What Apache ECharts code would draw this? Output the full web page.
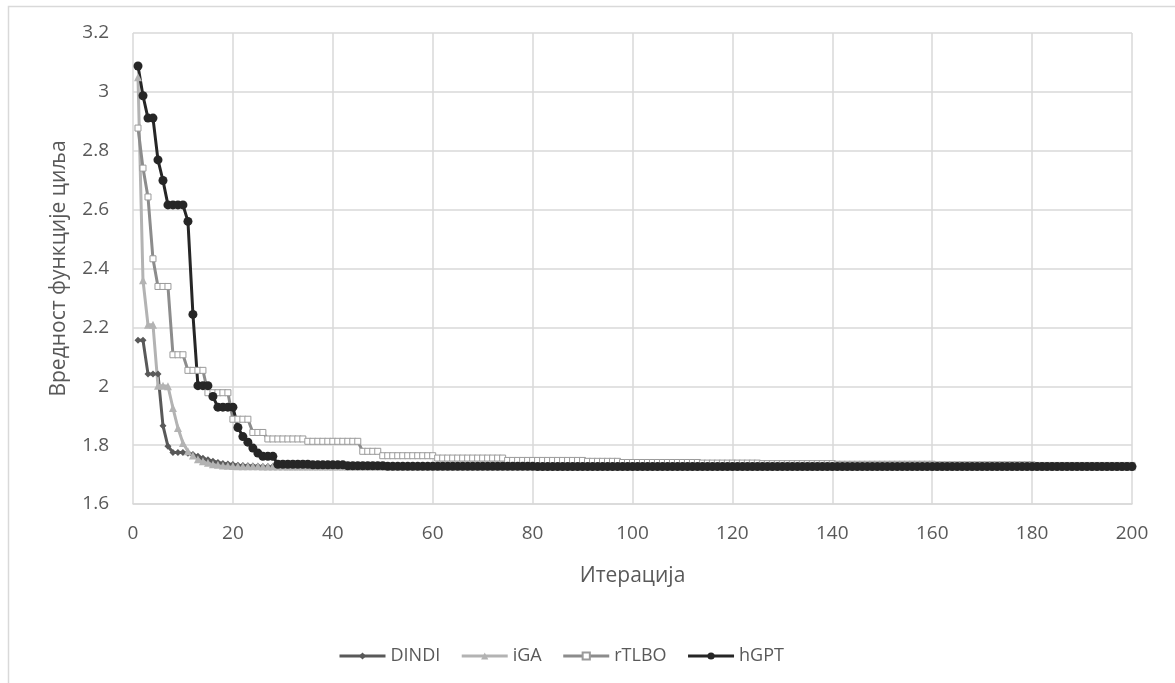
<!DOCTYPE html>
<html>
<head>
<meta charset="utf-8">
<script src="https://cdn.jsdelivr.net/npm/echarts@6/dist/echarts.min.js"></script>
<style>
html,body{margin:0;padding:0;background:#fff;}
#chart{width:1175px;height:683px;}
</style>
</head>
<body>
<div id="chart"></div>
<script>
// Iteration numbers 1..200 (x axis)
const seriesNames = ['DINDI', 'iGA', 'rTLBO', 'hGPT'];
const xTicks = [0, 20, 40, 60, 80, 100, 120, 140, 160, 180, 200];
const yTicks = [1.6, 1.8, 2, 2.2, 2.4, 2.6, 2.8, 3, 3.2];
const xTitle = 'Итерација';
const yTitle = 'Вредност функције циља';

const dindi = [
  2.156,2.156,2.042,2.042,2.042,1.866,1.796,1.775,1.775,1.775,
  1.772,1.768,1.762,1.755,1.750,1.745,1.741,1.738,1.736,1.734,
  1.732,1.731,1.730,1.729,1.728,1.727,1.727,1.727,1.727,1.727,
  1.726,1.726,1.726,1.726,1.726,1.726,1.726,1.726,1.726,1.726,
  1.726,1.726,1.726,1.726,1.726,1.726,1.726,1.726,1.726,1.726,
  1.726,1.726,1.726,1.726,1.726,1.726,1.726,1.726,1.726,1.726,
  1.726,1.726,1.726,1.726,1.726,1.726,1.726,1.726,1.726,1.726,
  1.726,1.726,1.726,1.726,1.726,1.726,1.726,1.726,1.726,1.726,
  1.726,1.726,1.726,1.726,1.726,1.726,1.726,1.726,1.726,1.726,
  1.726,1.726,1.726,1.726,1.726,1.726,1.726,1.726,1.726,1.726,
  1.726,1.726,1.726,1.726,1.726,1.726,1.726,1.726,1.726,1.726,
  1.726,1.726,1.726,1.726,1.726,1.726,1.726,1.726,1.726,1.726,
  1.726,1.726,1.726,1.726,1.726,1.726,1.726,1.726,1.726,1.726,
  1.726,1.726,1.726,1.726,1.726,1.726,1.726,1.726,1.726,1.726,
  1.726,1.726,1.726,1.726,1.726,1.726,1.726,1.726,1.726,1.726,
  1.726,1.726,1.726,1.726,1.726,1.726,1.726,1.726,1.726,1.726,
  1.726,1.726,1.726,1.726,1.726,1.726,1.726,1.726,1.726,1.726,
  1.726,1.726,1.726,1.726,1.726,1.726,1.726,1.726,1.726,1.726,
  1.726,1.726,1.726,1.726,1.726,1.726,1.726,1.726,1.726,1.726,
  1.726,1.726,1.726,1.726,1.726,1.726,1.726,1.726,1.726,1.726
];

const iga = [
  3.050,2.360,2.209,2.209,2.002,2.002,2.000,1.926,1.858,1.807,
  1.779,1.765,1.752,1.745,1.740,1.735,1.733,1.731,1.730,1.729,
  1.728,1.728,1.728,1.728,1.728,1.727,1.727,1.727,1.727,1.727,
  1.727,1.727,1.727,1.727,1.727,1.727,1.727,1.727,1.727,1.727,
  1.727,1.727,1.727,1.727,1.727,1.727,1.727,1.727,1.727,1.727,
  1.727,1.727,1.727,1.727,1.727,1.727,1.727,1.727,1.727,1.727,
  1.727,1.727,1.727,1.727,1.727,1.727,1.727,1.727,1.727,1.727,
  1.727,1.727,1.727,1.727,1.727,1.727,1.727,1.727,1.727,1.727,
  1.727,1.727,1.727,1.727,1.727,1.727,1.727,1.727,1.727,1.727,
  1.727,1.727,1.727,1.727,1.727,1.727,1.727,1.727,1.727,1.727,
  1.727,1.727,1.727,1.727,1.727,1.727,1.727,1.727,1.727,1.727,
  1.727,1.727,1.727,1.727,1.727,1.727,1.727,1.727,1.727,1.727,
  1.727,1.727,1.727,1.727,1.727,1.727,1.727,1.727,1.727,1.727,
  1.727,1.727,1.727,1.727,1.727,1.727,1.727,1.727,1.727,1.727,
  1.727,1.727,1.727,1.727,1.727,1.727,1.727,1.727,1.727,1.727,
  1.727,1.727,1.727,1.727,1.727,1.727,1.727,1.727,1.727,1.727,
  1.727,1.727,1.727,1.727,1.727,1.727,1.727,1.727,1.727,1.727,
  1.727,1.727,1.727,1.727,1.727,1.727,1.727,1.727,1.727,1.727,
  1.727,1.727,1.727,1.727,1.727,1.727,1.727,1.727,1.727,1.727,
  1.727,1.727,1.727,1.727,1.727,1.727,1.727,1.727,1.727,1.727
];

const rtlbo = [
  2.877,2.741,2.643,2.433,2.339,2.339,2.339,2.107,2.107,2.107,
  2.054,2.054,2.054,2.054,1.978,1.978,1.978,1.978,1.978,1.888,
  1.888,1.888,1.888,1.843,1.843,1.843,1.821,1.821,1.821,1.821,
  1.821,1.821,1.821,1.821,1.813,1.813,1.813,1.813,1.813,1.813,
  1.813,1.813,1.813,1.813,1.813,1.779,1.779,1.779,1.779,1.764,
  1.764,1.764,1.764,1.764,1.764,1.764,1.764,1.764,1.764,1.764,
  1.756,1.756,1.756,1.756,1.756,1.756,1.756,1.756,1.756,1.756,
  1.756,1.756,1.756,1.756,1.748,1.748,1.748,1.748,1.748,1.748,
  1.748,1.748,1.748,1.748,1.748,1.748,1.748,1.748,1.748,1.748,
  1.745,1.745,1.745,1.745,1.745,1.745,1.745,1.741,1.741,1.741,
  1.741,1.741,1.741,1.741,1.741,1.741,1.741,1.741,1.741,1.741,
  1.741,1.741,1.741,1.739,1.739,1.739,1.739,1.739,1.739,1.739,
  1.739,1.739,1.739,1.739,1.739,1.737,1.737,1.737,1.737,1.737,
  1.737,1.737,1.737,1.737,1.737,1.737,1.737,1.737,1.737,1.737,
  1.735,1.735,1.735,1.735,1.735,1.735,1.735,1.735,1.735,1.735,
  1.735,1.735,1.735,1.735,1.735,1.735,1.735,1.735,1.735,1.735,
  1.733,1.733,1.733,1.733,1.733,1.733,1.733,1.733,1.733,1.733,
  1.733,1.733,1.733,1.733,1.733,1.733,1.733,1.733,1.733,1.733,
  1.731,1.731,1.731,1.731,1.731,1.731,1.731,1.731,1.731,1.731,
  1.731,1.731,1.731,1.731,1.731,1.731,1.731,1.731,1.731,1.731
];

const hgpt = [
  3.088,2.987,2.911,2.911,2.769,2.699,2.616,2.616,2.616,2.616,
  2.560,2.244,2.002,2.002,2.002,1.965,1.929,1.929,1.929,1.929,
  1.860,1.829,1.810,1.790,1.773,1.762,1.762,1.762,1.735,1.735,
  1.735,1.735,1.735,1.735,1.735,1.733,1.733,1.733,1.733,1.733,
  1.733,1.733,1.730,1.730,1.730,1.730,1.730,1.730,1.730,1.730,
  1.728,1.728,1.728,1.728,1.728,1.728,1.728,1.728,1.728,1.728,
  1.728,1.728,1.728,1.728,1.728,1.728,1.728,1.728,1.728,1.728,
  1.728,1.728,1.728,1.728,1.728,1.728,1.728,1.728,1.728,1.728,
  1.727,1.727,1.727,1.727,1.727,1.727,1.727,1.727,1.727,1.727,
  1.727,1.727,1.727,1.727,1.727,1.727,1.727,1.727,1.727,1.727,
  1.727,1.727,1.727,1.727,1.727,1.727,1.727,1.727,1.727,1.727,
  1.727,1.727,1.727,1.727,1.727,1.727,1.727,1.727,1.727,1.727,
  1.727,1.727,1.727,1.727,1.727,1.727,1.727,1.727,1.727,1.727,
  1.727,1.727,1.727,1.727,1.727,1.727,1.727,1.727,1.727,1.727,
  1.727,1.727,1.727,1.727,1.727,1.727,1.727,1.727,1.727,1.727,
  1.727,1.727,1.727,1.727,1.727,1.727,1.727,1.727,1.727,1.727,
  1.727,1.727,1.727,1.727,1.727,1.727,1.727,1.727,1.727,1.727,
  1.727,1.727,1.727,1.727,1.727,1.727,1.727,1.727,1.727,1.727,
  1.727,1.727,1.727,1.727,1.727,1.727,1.727,1.727,1.727,1.727,
  1.727,1.727,1.727,1.727,1.727,1.727,1.727,1.727,1.727,1.727
];

function pairs(arr) { return arr.map((v, i) => [i + 1, v]); }

const FONT = '"Open Sans", "Noto Sans", sans-serif';
const TXT = '#595959';
const GRID = '#d9d9d9';

const chart = echarts.init(document.getElementById('chart'), null, { renderer: 'canvas' });
chart.setOption({
  animation: false,
  backgroundColor: '#fff',
  graphic: [{
    type: 'rect', left: 6, top: 4, silent: true,
    shape: { width: 1200, height: 720 },
    style: { fill: 'none', stroke: GRID, lineWidth: 1.5 }
  }],
  grid: { left: 133, top: 33, right: 43, bottom: 179, containLabel: false },
  legend: {
    data: seriesNames,
    top: 642, left: 333,
    itemWidth: 46, itemHeight: 9, itemGap: 20,
    lineStyle: { width: 3 },
    textStyle: { fontFamily: FONT, fontSize: 18, color: TXT }
  },
  xAxis: {
    type: 'value', min: xTicks[0], max: xTicks[xTicks.length - 1], interval: 20,
    name: xTitle, nameLocation: 'middle', nameGap: 62,
    nameTextStyle: { fontFamily: FONT, fontSize: 21, color: TXT },
    axisLine: { show: true, lineStyle: { color: GRID, width: 1.5 } },
    axisTick: { show: false },
    splitLine: { show: true, lineStyle: { color: GRID, width: 1.5 } },
    axisLabel: { fontFamily: FONT, fontSize: 19, color: TXT, margin: 20 }
  },
  yAxis: {
    type: 'value', min: yTicks[0], max: yTicks[yTicks.length - 1], interval: 0.2,
    name: yTitle, nameLocation: 'middle', nameGap: 63, nameRotate: 90,
    nameTextStyle: { fontFamily: FONT, fontSize: 21, color: TXT },
    axisLine: { show: false },
    axisTick: { show: false },
    splitLine: { show: true, lineStyle: { color: GRID, width: 1.5 } },
    axisLabel: {
      fontFamily: FONT, fontSize: 19, color: TXT, margin: 24,
      formatter: v => String(parseFloat(v.toFixed(2)))
    }
  },
  series: [
    {
      name: 'DINDI', type: 'line', data: pairs(dindi),
      symbol: 'diamond', symbolSize: 7, showAllSymbol: true,
      lineStyle: { color: '#595959', width: 3 },
      itemStyle: { color: '#595959' }
    },
    {
      name: 'iGA', type: 'line', data: pairs(iga),
      symbol: 'triangle', symbolSize: 8, showAllSymbol: true,
      lineStyle: { color: '#b3b3b3', width: 3 },
      itemStyle: { color: '#b3b3b3' }
    },
    {
      name: 'rTLBO', type: 'line', data: pairs(rtlbo),
      symbol: 'rect', symbolSize: 6, showAllSymbol: true,
      lineStyle: { color: '#8c8c8c', width: 3 },
      itemStyle: { color: '#ffffff', borderColor: '#9a9a9a', borderWidth: 1 }
    },
    {
      name: 'hGPT', type: 'line', data: pairs(hgpt),
      symbol: 'circle', symbolSize: 9, showAllSymbol: true,
      lineStyle: { color: '#262626', width: 3 },
      itemStyle: { color: '#262626' }
    }
  ]
});
</script>
</body>
</html>
